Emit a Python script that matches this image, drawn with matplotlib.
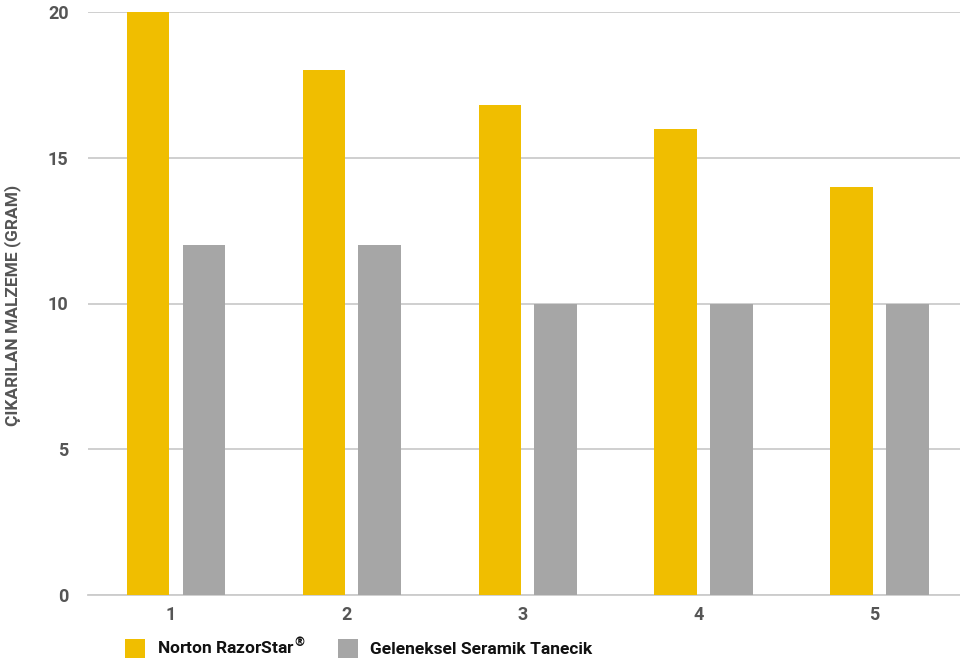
import matplotlib.pyplot as plt
import numpy as np

categories = ["1", "2", "3", "4", "5"]
razorstar = [20, 18, 16.8, 16, 14]
seramik = [12, 12, 10, 10, 10]
yticks = [0, 5, 10, 15, 20]

yellow = "#F0BE00"
grey = "#A6A6A6"

plt.rcParams['font.family'] = ['Roboto', 'DejaVu Sans']
plt.rcParams['mathtext.default'] = 'bf'

fig = plt.figure(figsize=(9.6, 6.66), dpi=100)
ax = fig.add_axes([88 / 960, 71 / 666, 1 - 88 / 960, 583 / 666])

x = np.arange(len(categories))
w = 0.244
off = 0.159
ax.bar(x - off, razorstar, w, color=yellow, label="Norton RazorStar$^{®}$", zorder=3)
ax.bar(x + off, seramik, w, color=grey, label="Geleneksel Seramik Tanecik", zorder=3)

ax.set_xlim(-0.5, 4.455)
ax.set_ylim(0, 20)
ax.set_yticks(yticks)
ax.set_xticks(x - 0.03)
ax.set_xticklabels(categories)
ax.yaxis.grid(True, color="#CCCCCC", linewidth=1.3, zorder=0)
for s in ["top", "right", "left"]:
    ax.spines[s].set_visible(False)
ax.spines["bottom"].set_color("#CCCCCC")
ax.spines["bottom"].set_linewidth(1.3)
ax.tick_params(axis="both", length=0, labelsize=13, labelcolor="#555555")
ax.tick_params(axis="y", pad=14)
ax.tick_params(axis="x", pad=8)
for t in ax.get_xticklabels() + ax.get_yticklabels():
    t.set_fontweight("bold")

ax.set_ylabel("ÇIKARILAN MALZEME (GRAM)", fontsize=12.5, fontweight="bold",
              color="#555555")
ax.yaxis.set_label_coords(-67 / 872, 0.497)

fig.legend(loc="center left", bbox_to_anchor=(125 / 960, 19 / 666), ncol=2, frameon=False,
           borderpad=0, borderaxespad=0,
           handlelength=1.15, handleheight=1.32, handletextpad=0.7, columnspacing=1.85,
           prop={"size": 12.5, "weight": "bold"}, labelcolor="#111111")

fig.savefig("out.png", dpi=100)
